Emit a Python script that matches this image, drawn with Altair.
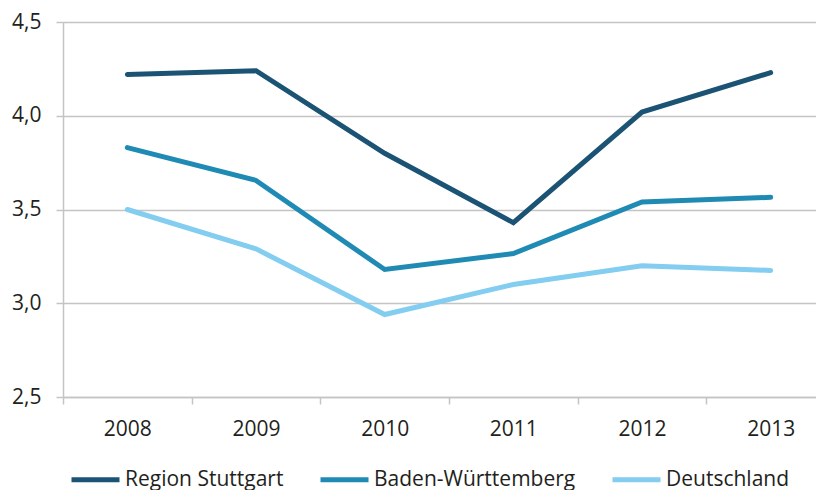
import altair as alt
import pandas as pd

years = ["2008", "2009", "2010", "2011", "2012", "2013"]
series = ["Region Stuttgart", "Baden-Württemberg", "Deutschland"]
stuttgart = [4.22, 4.24, 3.80, 3.43, 4.02, 4.23]
bw = [3.83, 3.655, 3.18, 3.265, 3.54, 3.565]
de = [3.50, 3.29, 2.94, 3.10, 3.20, 3.175]
colors = ["#1b5374", "#1f8ab3", "#82cdf0"]
y_ticks = [2.5, 3.0, 3.5, 4.0, 4.5]

rows = []
for name, vals in zip(series, [stuttgart, bw, de]):
    for yr, v in zip(years, vals):
        rows.append({"year": yr, "value": v, "series": name})
df = pd.DataFrame(rows)

grey = "#c4c4c4"
txt = "#231f20"
font = "Open Sans"
fs = 21

chart = alt.Chart(df).mark_line(strokeWidth=5, strokeCap="round", strokeJoin="miter").encode(
    x=alt.X("year:O", sort=years,
            scale=alt.Scale(type="band", paddingInner=0, paddingOuter=0, range=[0, 772]),
            axis=alt.Axis(title=None, labelAngle=0, tickBand="extent", tickSize=7,
                          tickColor=grey, domainColor=grey, domainWidth=1.5, tickWidth=1.5,
                          labelPadding=14, labelFontSize=fs, labelColor=txt, labelFont=font,
                          grid=False)),
    y=alt.Y("value:Q",
            scale=alt.Scale(domain=[2.5, 4.5], nice=False, zero=False),
            axis=alt.Axis(title=None, values=y_ticks,
                          labelExpr="replace(format(datum.value, '.1f'), '.', ',')",
                          tickSize=7, tickColor=grey, tickWidth=1.5, domainColor=grey, domainWidth=1.5,
                          gridColor=grey, gridWidth=1.5, grid=True,
                          labelPadding=15, labelFontSize=fs, labelColor=txt, labelFont=font)),
    color=alt.Color("series:N", sort=series,
                    scale=alt.Scale(domain=series, range=colors),
                    legend=alt.Legend(title=None, orient="none", direction="horizontal",
                                      legendX=6, legendY=431, padding=0,
                                      symbolType="stroke", symbolSize=2304, symbolStrokeWidth=5,
                                      labelFontSize=fs, labelColor=txt, labelFont=font,
                                      labelLimit=400, labelOffset=3, columnPadding=26)),
).properties(
    width=753, height=375,
    autosize=alt.AutoSizeParams(type="none"),
    padding={"left": 55, "top": 14, "right": 0, "bottom": 93},
).configure_view(stroke=None)

chart.save("out.html", embed_options={"renderer": "svg", "actions": False})
